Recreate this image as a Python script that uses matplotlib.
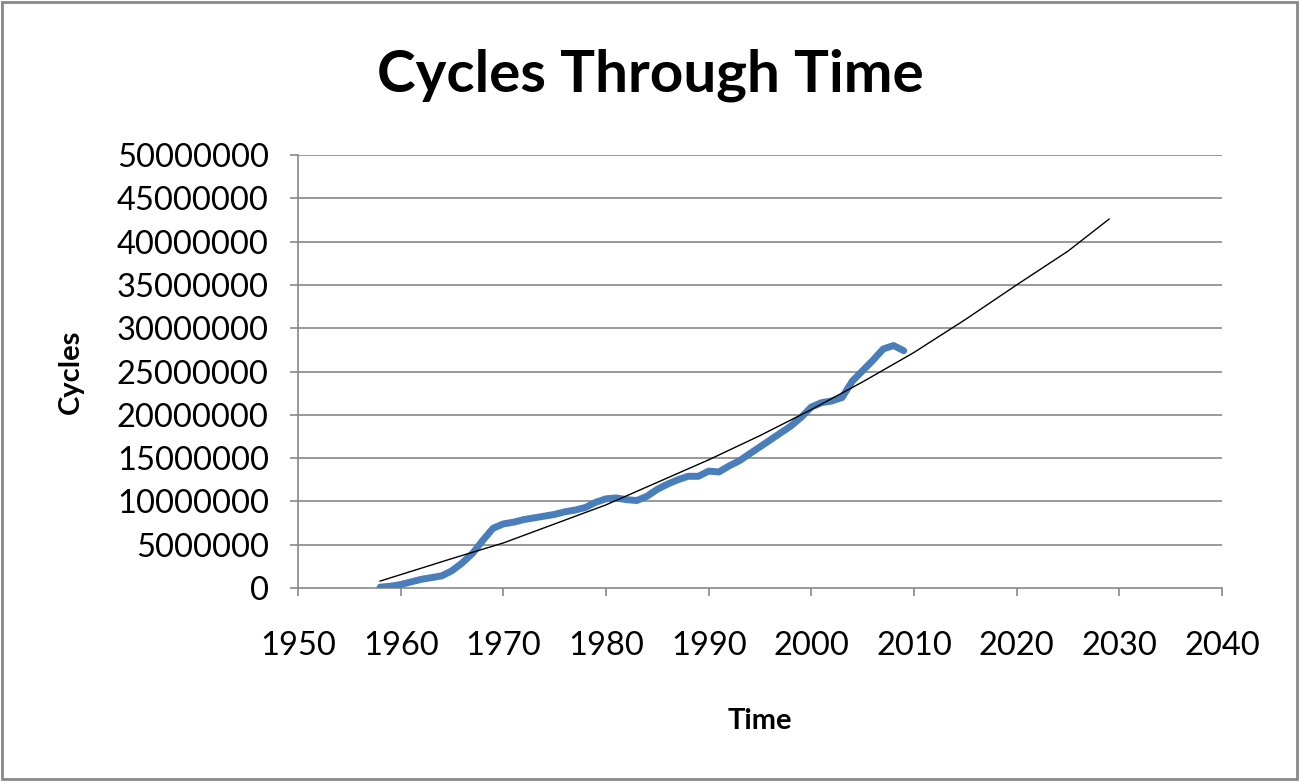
import matplotlib
matplotlib.use("Agg")
import matplotlib.pyplot as plt
from matplotlib.patches import Rectangle

years = [1958, 1959, 1960, 1961, 1962, 1963, 1964, 1965, 1966, 1967, 1968, 1969,
         1970, 1971, 1972, 1973, 1974, 1975, 1976, 1977, 1978, 1979, 1980, 1981,
         1982, 1983, 1984, 1985, 1986, 1987, 1988, 1989, 1990, 1991, 1992, 1993,
         1994, 1995, 1996, 1997, 1998, 1999, 2000, 2001, 2002, 2003, 2004, 2005,
         2006, 2007, 2008, 2009]
cycles = [0.1e6, 0.2e6, 0.4e6, 0.7e6, 1.0e6, 1.2e6, 1.4e6, 2.0e6, 2.9e6, 4.0e6, 5.5e6, 6.9e6,
          7.4e6, 7.6e6, 7.9e6, 8.1e6, 8.3e6, 8.5e6, 8.8e6, 9.0e6, 9.3e6, 9.9e6, 10.3e6, 10.4e6,
          10.2e6, 10.1e6, 10.6e6, 11.4e6, 12.0e6, 12.5e6, 12.9e6, 12.9e6, 13.5e6, 13.4e6, 14.1e6, 14.7e6,
          15.5e6, 16.3e6, 17.1e6, 17.9e6, 18.7e6, 19.7e6, 20.9e6, 21.4e6, 21.6e6, 22.0e6, 23.9e6, 25.1e6,
          26.3e6, 27.6e6, 28.0e6, 27.4e6]

trend_years = [1958, 1965, 1970, 1975, 1980, 1985, 1990, 1995, 2000, 2005, 2010, 2015, 2020, 2025, 2029]
trend_vals = [0.8e6, 3.4e6, 5.2e6, 7.4e6, 9.6e6, 12.2e6, 14.8e6, 17.6e6, 20.6e6, 23.8e6,
              27.2e6, 31.0e6, 35.0e6, 38.9e6, 42.6e6]

x_ticks = [1950, 1960, 1970, 1980, 1990, 2000, 2010, 2020, 2030, 2040]
y_ticks = [0, 5000000, 10000000, 15000000, 20000000, 25000000, 30000000, 35000000, 40000000, 45000000, 50000000]

plt.rcParams['font.family'] = ['Lato', 'DejaVu Sans']

fig = plt.figure(figsize=(12.99, 7.81), dpi=100)
ax = fig.add_axes([298/1299, 1-588/781, (1222-298)/1299, (588-155)/781])

for y in y_ticks[1:]:
    ax.axhline(y, color='#878787', lw=1.2, zorder=1)

ax.plot(years, cycles, color='#4A7EBB', lw=5, solid_joinstyle='round',
        solid_capstyle='round', zorder=3)
ax.plot(trend_years, trend_vals, color='black', lw=1.0, zorder=4)

ax.set_xlim(1950, 2040)
ax.set_ylim(0, 50000000)
ax.set_xticks(x_ticks)
ax.set_yticks(y_ticks)
ax.set_xticklabels([str(v) for v in x_ticks])
ax.set_yticklabels([str(v) for v in y_ticks])
ax.tick_params(axis='both', labelsize=23.5, color='#878787', length=6, width=1.2, direction='out')
ax.tick_params(axis='y', pad=15)
ax.tick_params(axis='x', pad=25)
for s in ['top', 'right']:
    ax.spines[s].set_visible(False)
for s in ['left', 'bottom']:
    ax.spines[s].set_color('#878787')
    ax.spines[s].set_linewidth(1.2)

ax.set_xlabel('Time', fontsize=21, fontweight='bold', labelpad=34)
ax.set_ylabel('Cycles', fontsize=21, fontweight='bold', labelpad=24)
fig.text(650/1299, 1-75/781, 'Cycles Through Time', ha='center', va='center',
         fontsize=42, fontweight='bold')

fig.patches.append(Rectangle((2/1299, 2/781), 1-4/1299, 1-4/781, transform=fig.transFigure,
                             fill=False, edgecolor='#888888', lw=2.0))

fig.savefig('out.png', dpi=100)
